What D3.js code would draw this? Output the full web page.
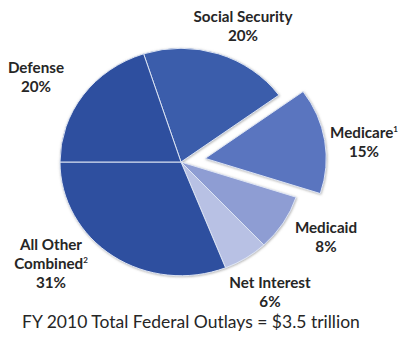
<!DOCTYPE html>
<html>
<head>
<meta charset="utf-8">
<script src="https://cdn.jsdelivr.net/npm/d3@7"></script>
<style>
  html, body { margin: 0; padding: 0; background: #fff; }
  svg { display: block; }
  text { font-family: Lato, "Open Sans", sans-serif; fill: #262626; }
</style>
</head>
<body>
<svg id="chart" width="401" height="337"></svg>
<script>
// FY 2010 federal outlays by category (percent of total)
const categories = ["Social Security", "Medicare", "Medicaid", "Net Interest", "All Other Combined", "Defense"];
const shares = [20, 15, 8, 6, 31, 20];
const footnotes = ["", "1", "", "", "2", ""];
const exploded = ["Medicare"];
const title = "FY 2010 Total Federal Outlays = $3.5 trillion";

const colors = ["#3a5dab", "#5a74bf", "#8e9dd3", "#b8c1e4", "#2f4f9f", "#2f509f"];

// label text lines and anchors (x, first baseline)
const labelLines = [
  ["Social Security", "20%"],
  ["Medicare", "15%"],
  ["Medicaid", "8%"],
  ["Net Interest", "6%"],
  ["All Other", "Combined", "31%"],
  ["Defense", "20%"]
];
const labelAnchor = [[243, 22], [364, 138], [326, 233], [270, 288], [51, 250], [36, 73]];

const svg = d3.select("#chart");
const cx = 181, cy = 162, r = 121, squash = 0.94, explodeDist = 24.5;

const defs = svg.append("defs");
const f = defs.append("filter").attr("id", "rim")
  .attr("x", "-10%").attr("y", "-10%").attr("width", "120%").attr("height", "120%");
f.append("feDropShadow").attr("dx", 0.6).attr("dy", 0.8).attr("stdDeviation", 1)
  .attr("flood-color", "#7a7a7a").attr("flood-opacity", 0.6);

// All Other Combined closes at the 9 o'clock position
const total = d3.sum(shares);
const beforeDefense = d3.sum(shares.slice(0, 5)) / total * 2 * Math.PI;
const start = 1.5 * Math.PI - beforeDefense;

const pie = d3.pie().sort(null).value(d => d)
  .startAngle(start).endAngle(start + 2 * Math.PI);
const arcs = pie(shares);
const arc = d3.arc().innerRadius(0).outerRadius(r);

const g = svg.append("g")
  .attr("transform", `translate(${cx},${cy}) scale(1,${squash})`)
  .attr("filter", "url(#rim)");

g.selectAll("path").data(arcs).join("path")
  .attr("d", arc)
  .attr("fill", (d, i) => colors[i])
  .attr("stroke", "#dfe6f5")
  .attr("stroke-width", 1)
  .attr("stroke-linejoin", "round")
  .attr("transform", (d, i) => {
    if (!exploded.includes(categories[i])) return null;
    const mid = (d.startAngle + d.endAngle) / 2;
    return `translate(${Math.sin(mid) * explodeDist},${-Math.cos(mid) * explodeDist})`;
  });

// category labels
const lineH = 19;
labelLines.forEach((lines, i) => {
  const t = svg.append("text")
    .attr("text-anchor", "middle")
    .attr("font-size", 15.2)
    .attr("font-weight", "bold");
  lines.forEach((ln, j) => {
    t.append("tspan")
      .attr("x", labelAnchor[i][0])
      .attr("y", labelAnchor[i][1] + j * lineH)
      .text(ln);
    const isNameEnd = j === lines.length - 2;
    if (isNameEnd && footnotes[i]) {
      t.append("tspan")
        .attr("font-size", 8)
        .attr("dy", -6)
        .text(footnotes[i]);
    }
  });
});

svg.append("text")
  .attr("x", 191).attr("y", 328)
  .attr("text-anchor", "middle")
  .attr("font-size", 17.5)
  .attr("fill", "#1e1e1e")
  .text(title);
</script>
</body>
</html>
